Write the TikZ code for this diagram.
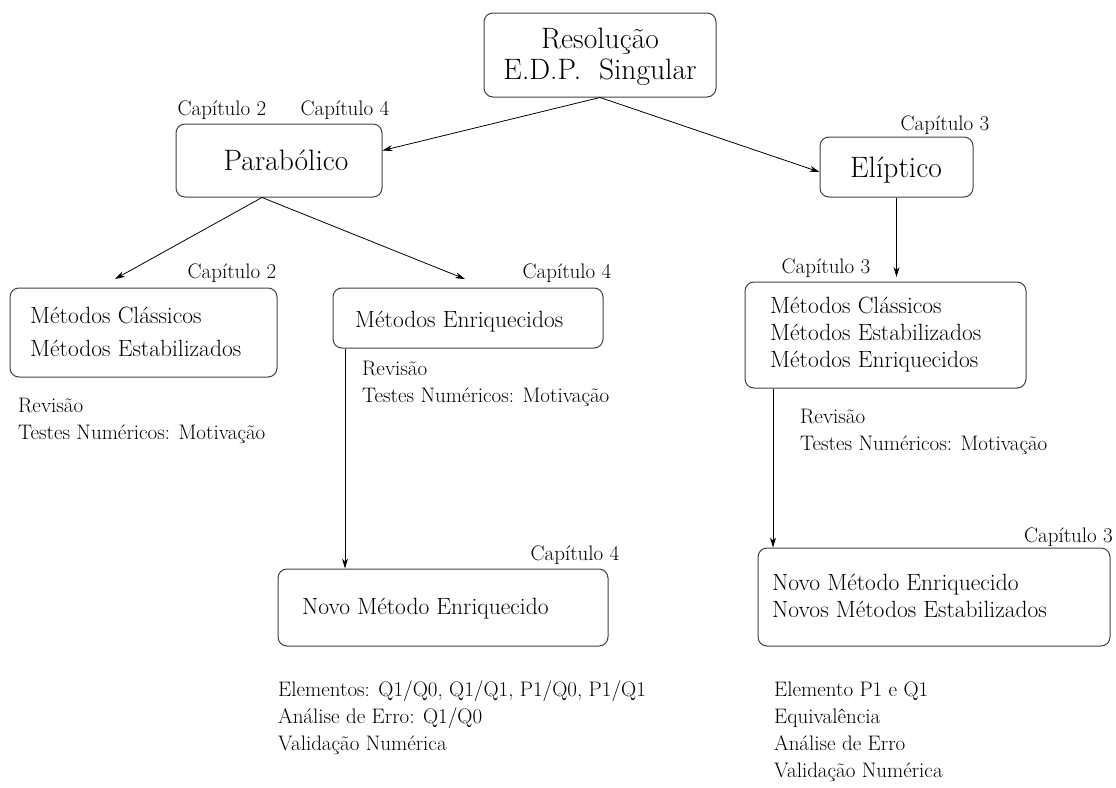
\documentclass[tikz,border=0pt]{standalone}
\usepackage{fontspec}
\usetikzlibrary{arrows.meta,calc}
\begin{document}
\begin{tikzpicture}[x=1pt,y=-1pt,
  box/.style={draw=black!75,line width=1pt,rounded corners=9pt,inner sep=0pt},
  small/.style={font=\fontsize{21}{27}\selectfont,inner sep=0pt,align=left},
  mid/.style={font=\fontsize{23.5}{27}\selectfont,inner sep=0pt,align=left},
  big/.style={font=\fontsize{29.5}{31}\selectfont,inner sep=0pt,align=center},
  arr/.style={line width=0.8pt,-{Stealth[length=10pt,width=6pt]}}]
\useasboundingbox (0,0) rectangle (1116,787);
% boxes
\node[box,minimum width=232pt,minimum height=84pt] (top) at (600,55) {};
\node[big,anchor=center] (toptxt) at (600,57) {Resolução\\E.D.P.\ \ Singular};
\node[box,minimum width=206pt,minimum height=73pt] (par) at (279,160.5) {};
\node[big] (partxt) at (286,160) {Parabólico};
\node[box,minimum width=153pt,minimum height=60pt] (elip) at (896.5,167) {};
\node[big] (eliptxt) at (896,170) {Elíptico};
\node[box,minimum width=267pt,minimum height=89pt] (clas) at (143.5,332.5) {};
\node[mid,anchor=west] (clastxt) at (30,332) {Métodos Clássicos\\[6pt]Métodos Estabilizados};
\node[box,minimum width=270pt,minimum height=60pt] (enr) at (468,318) {};
\node[mid,anchor=west] (enrtxt) at (355,322) {Métodos Enriquecidos};
\node[box,minimum width=330pt,minimum height=77pt] (novo) at (443,607.5) {};
\node[mid,anchor=west] (novotxt) at (302,609) {Novo Método Enriquecido};
\node[box,minimum width=281pt,minimum height=106pt] (emet) at (885.5,335) {};
\node[mid,anchor=west] (emettxt) at (770,335) {Métodos Clássicos\\Métodos Estabilizados\\Métodos Enriquecidos};
\node[box,minimum width=352pt,minimum height=98pt] (enovo) at (934,597) {};
\node[mid,anchor=west] (enovotxt) at (772,596) {Novo Método Enriquecido\\Novos Métodos Estabilizados};
% chapter labels
\node[small] (c1) at (222,110) {Capítulo 2};
\node[small] (c2) at (345,110) {Capítulo 4};
\node[small] (c3) at (945,125) {Capítulo 3};
\node[small] (c4) at (232,273) {Capítulo 2};
\node[small] (c5) at (567,273) {Capítulo 4};
\node[small] (c6) at (575,555) {Capítulo 4};
\node[small] (c7) at (826,268) {Capítulo 3};
\node[small,anchor=east] (c8) at (1113,537) {Capítulo 3};
% annotations
\node[small,anchor=west] (n1) at (18,421) {Revisão\\Testes Numéricos: Motivação};
\node[small,anchor=west] (n2) at (362,384) {Revisão\\Testes Numéricos: Motivação};
\node[small,anchor=west] (n3) at (800,432) {Revisão\\Testes Numéricos: Motivação};
\node[small,anchor=west] (n4) at (278,718) {Elementos: Q1/Q0, Q1/Q1, P1/Q0, P1/Q1\\Análise de Erro: Q1/Q0\\Validação Numérica};
\node[small,anchor=west] (n5) at (774,732) {Elemento P1 e Q1\\Equivalência\\Análise de Erro\\Validação Numérica};
% connectors
\coordinate (a1) at (115,279);
\coordinate (a2) at (465,279);
\coordinate (a3) at (896.5,277);
\draw[arr] (top.south) -- ([yshift=10pt]par.east);
\draw[arr] (top.south) -- ([yshift=-5pt]elip.west);
\draw[arr] ([xshift=-17pt]par.south) -- (a1);
\draw[arr] ([xshift=-17pt]par.south) -- (a2);
\draw[arr] (elip.south) -- (a3);
\draw[arr] (enr.south west -| 345,0) -- (novo.north west -| 345,0);
\draw[arr] (emet.south west -| 773,0) -- (enovo.north west -| 773,0);
\end{tikzpicture}
\end{document}
